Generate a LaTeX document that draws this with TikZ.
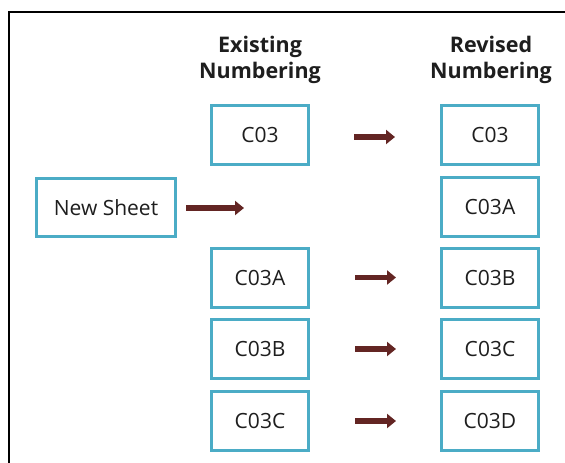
\documentclass[tikz,border=0pt]{standalone}
\usepackage{fontspec}
\setmainfont{Open Sans}
\usetikzlibrary{arrows.meta}
\definecolor{boxline}{HTML}{4BACC6}
\definecolor{arrowred}{HTML}{632523}
\definecolor{ink}{HTML}{1E1E1E}
\tikzset{
  sheet/.style={draw=boxline, line width=3pt, fill=white, minimum width=97pt,
    minimum height=59pt, inner sep=0pt, text=ink, font=\fontsize{21}{24}\selectfont},
  heading/.style={align=center, text=ink, font=\fontsize{21.5}{26}\selectfont\bfseries},
  moveto/.style={draw=arrowred, line width=5.5pt,
    -{Triangle[length=9pt,width=14pt]}},
}
\begin{document}
\begin{tikzpicture}[x=1pt,y=-1pt]
\useasboundingbox (0,0) rectangle (565,463);
% frame
\draw[line width=2pt] (565,12) -- (9.3,12) -- (9.3,463);

% column headings
\node[heading] (hold) at (260,60) {Existing\\Numbering};
\node[heading] (hnew) at (491,60) {Revised\\Numbering};

% existing numbering
\node[sheet] (o1) at (260,135)   {C03};
\node[sheet] (o2) at (260,277.5) {C03A};
\node[sheet] (o3) at (260,349)   {C03B};
\node[sheet] (o4) at (260,421)   {C03C};

% revised numbering
\node[sheet] (n1) at (490,135)   {C03};
\node[sheet] (n2) at (490,206.5) {C03A};
\node[sheet] (n3) at (490,277.5) {C03B};
\node[sheet] (n4) at (490,349)   {C03C};
\node[sheet] (n5) at (490,421)   {C03D};

% inserted sheet
\node[sheet, minimum width=139pt, minimum height=58pt] (ns) at (106,207.5) {New Sheet};

% arrows
\draw[moveto] ([shift={(44,2)}]o1.east) -- ([shift={(85,2)}]o1.east);
\draw[moveto] ([shift={(45,0)}]o2.east) -- ([shift={(86,0)}]o2.east);
\draw[moveto] ([shift={(45,0)}]o3.east) -- ([shift={(86,0)}]o3.east);
\draw[moveto] ([shift={(45,0)}]o4.east) -- ([shift={(86,0)}]o4.east);
\draw[moveto] ([shift={(9,0.5)}]ns.east) -- ([shift={(67,0.5)}]ns.east);
\end{tikzpicture}
\end{document}
